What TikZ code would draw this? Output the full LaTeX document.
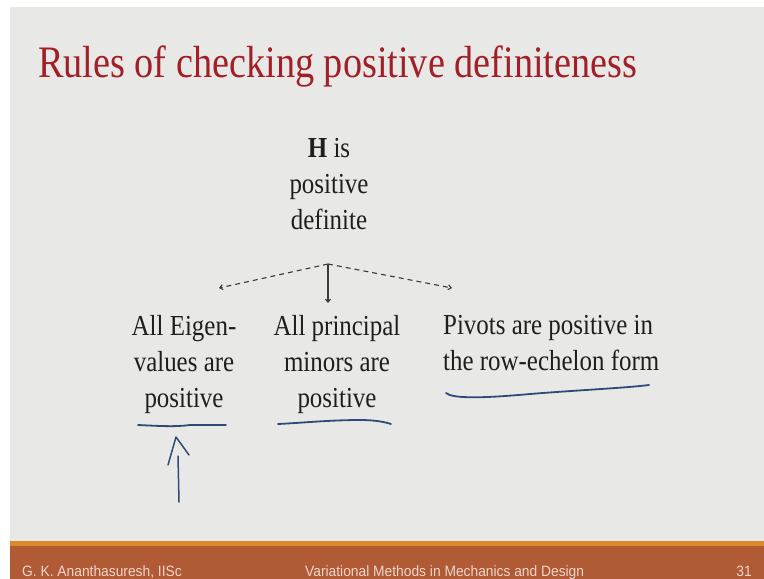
\documentclass[tikz,border=0pt]{standalone}
\usepackage{fontspec}
\setmainfont{Liberation Serif}
\newfontfamily\footfont{Liberation Sans}
\usetikzlibrary{arrows.meta}

\definecolor{slidebg}{HTML}{E8E9E6}
\definecolor{titlered}{HTML}{A31F27}
\definecolor{barbrown}{HTML}{B05A36}
\definecolor{barorange}{HTML}{D98A2A}
\definecolor{foottext}{HTML}{F0D6CC}
\definecolor{inkblue}{HTML}{2E4A78}
\definecolor{textgray}{HTML}{1E1E1E}
\definecolor{linkgray}{HTML}{3A3A3A}

\begin{document}
\begin{tikzpicture}[x=1pt,y=-1pt,
  titletext/.style={font=\fontsize{45}{50}\selectfont, text=titlered, inner sep=0pt, xscale=0.85},
  bodytext/.style={font=\fontsize{29}{36}\selectfont, text=textgray, inner sep=0pt, xscale=0.86},
  foot/.style={font=\footfont\fontsize{15}{18}\selectfont, text=foottext, inner sep=0pt, xscale=0.92},
  dashlink/.style={draw=linkgray, line width=1.1pt, dash pattern=on 5pt off 4pt,
    -{Straight Barb[length=3pt,width=5pt]}},
  solidlink/.style={draw=linkgray, line width=1.1pt, -{Straight Barb[length=3pt,width=5pt]}},
  ink/.style={draw=inkblue, line width=1.8pt, line cap=round, line join=round}
]
\useasboundingbox (0,0) rectangle (764,579);

% slide background and footer bar
\fill[white] (0,0) rectangle (764,579);
\fill[slidebg] (10,7) rectangle (764,542);
\fill[barorange] (10,541) rectangle (764,546);
\fill[barbrown] (10,546) rectangle (764,579);

% title
\node[titletext, anchor=base west] (title) at (38,77) {Rules of checking positive definiteness};

% statement and the three tests (base anchor = baseline of the last line)
\node[bodytext, align=center, anchor=base] (hpd) at (329,229)
  {\textbf{H} is\\positive\\definite};
\node[bodytext, align=center, anchor=base] (eigen) at (184,407)
  {All Eigen-\\values are\\positive};
\node[bodytext, align=center, anchor=base] (minors) at (337,407)
  {All principal\\minors are\\positive};
\node[bodytext, align=left, anchor=base west] (pivots) at (443,370)
  {Pivots are positive in\\the row-echelon form};

% connectors
\coordinate (fork) at (328,264);
\coordinate (eigtip) at (219,288);
\coordinate (pivtip) at (452,288);
\coordinate (mintip) at (328,303);
\draw[dashlink] (fork) -- (eigtip);
\draw[dashlink] (fork) -- (pivtip);
\draw[solidlink] (fork) -- (mintip);

% handwritten underlines and arrow
\draw[ink] (138,425) .. controls (160,426) and (175,427) .. (190,425) -- (226,425);
\draw[ink] (278,424) .. controls (300,423) and (330,420) .. (360,420) .. controls (375,420) and (385,422) .. (391,424);
\draw[ink] (446,393) .. controls (452,398) and (475,399) .. (530,394) .. controls (580,390) and (625,388) .. (649,385);
\draw[ink, line width=1.5pt] (168,465) -- (176,437) -- (189,455);
\draw[ink, line width=1.5pt] (178,456) -- (179,502);

% footer
\node[foot, anchor=base west] (author) at (22,576) {G. K. Ananthasuresh, IISc};
\node[foot, anchor=base west] (course) at (305,576) {Variational Methods in Mechanics and Design};
\node[foot, anchor=base east] (page) at (752,576) {31};
\end{tikzpicture}
\end{document}
